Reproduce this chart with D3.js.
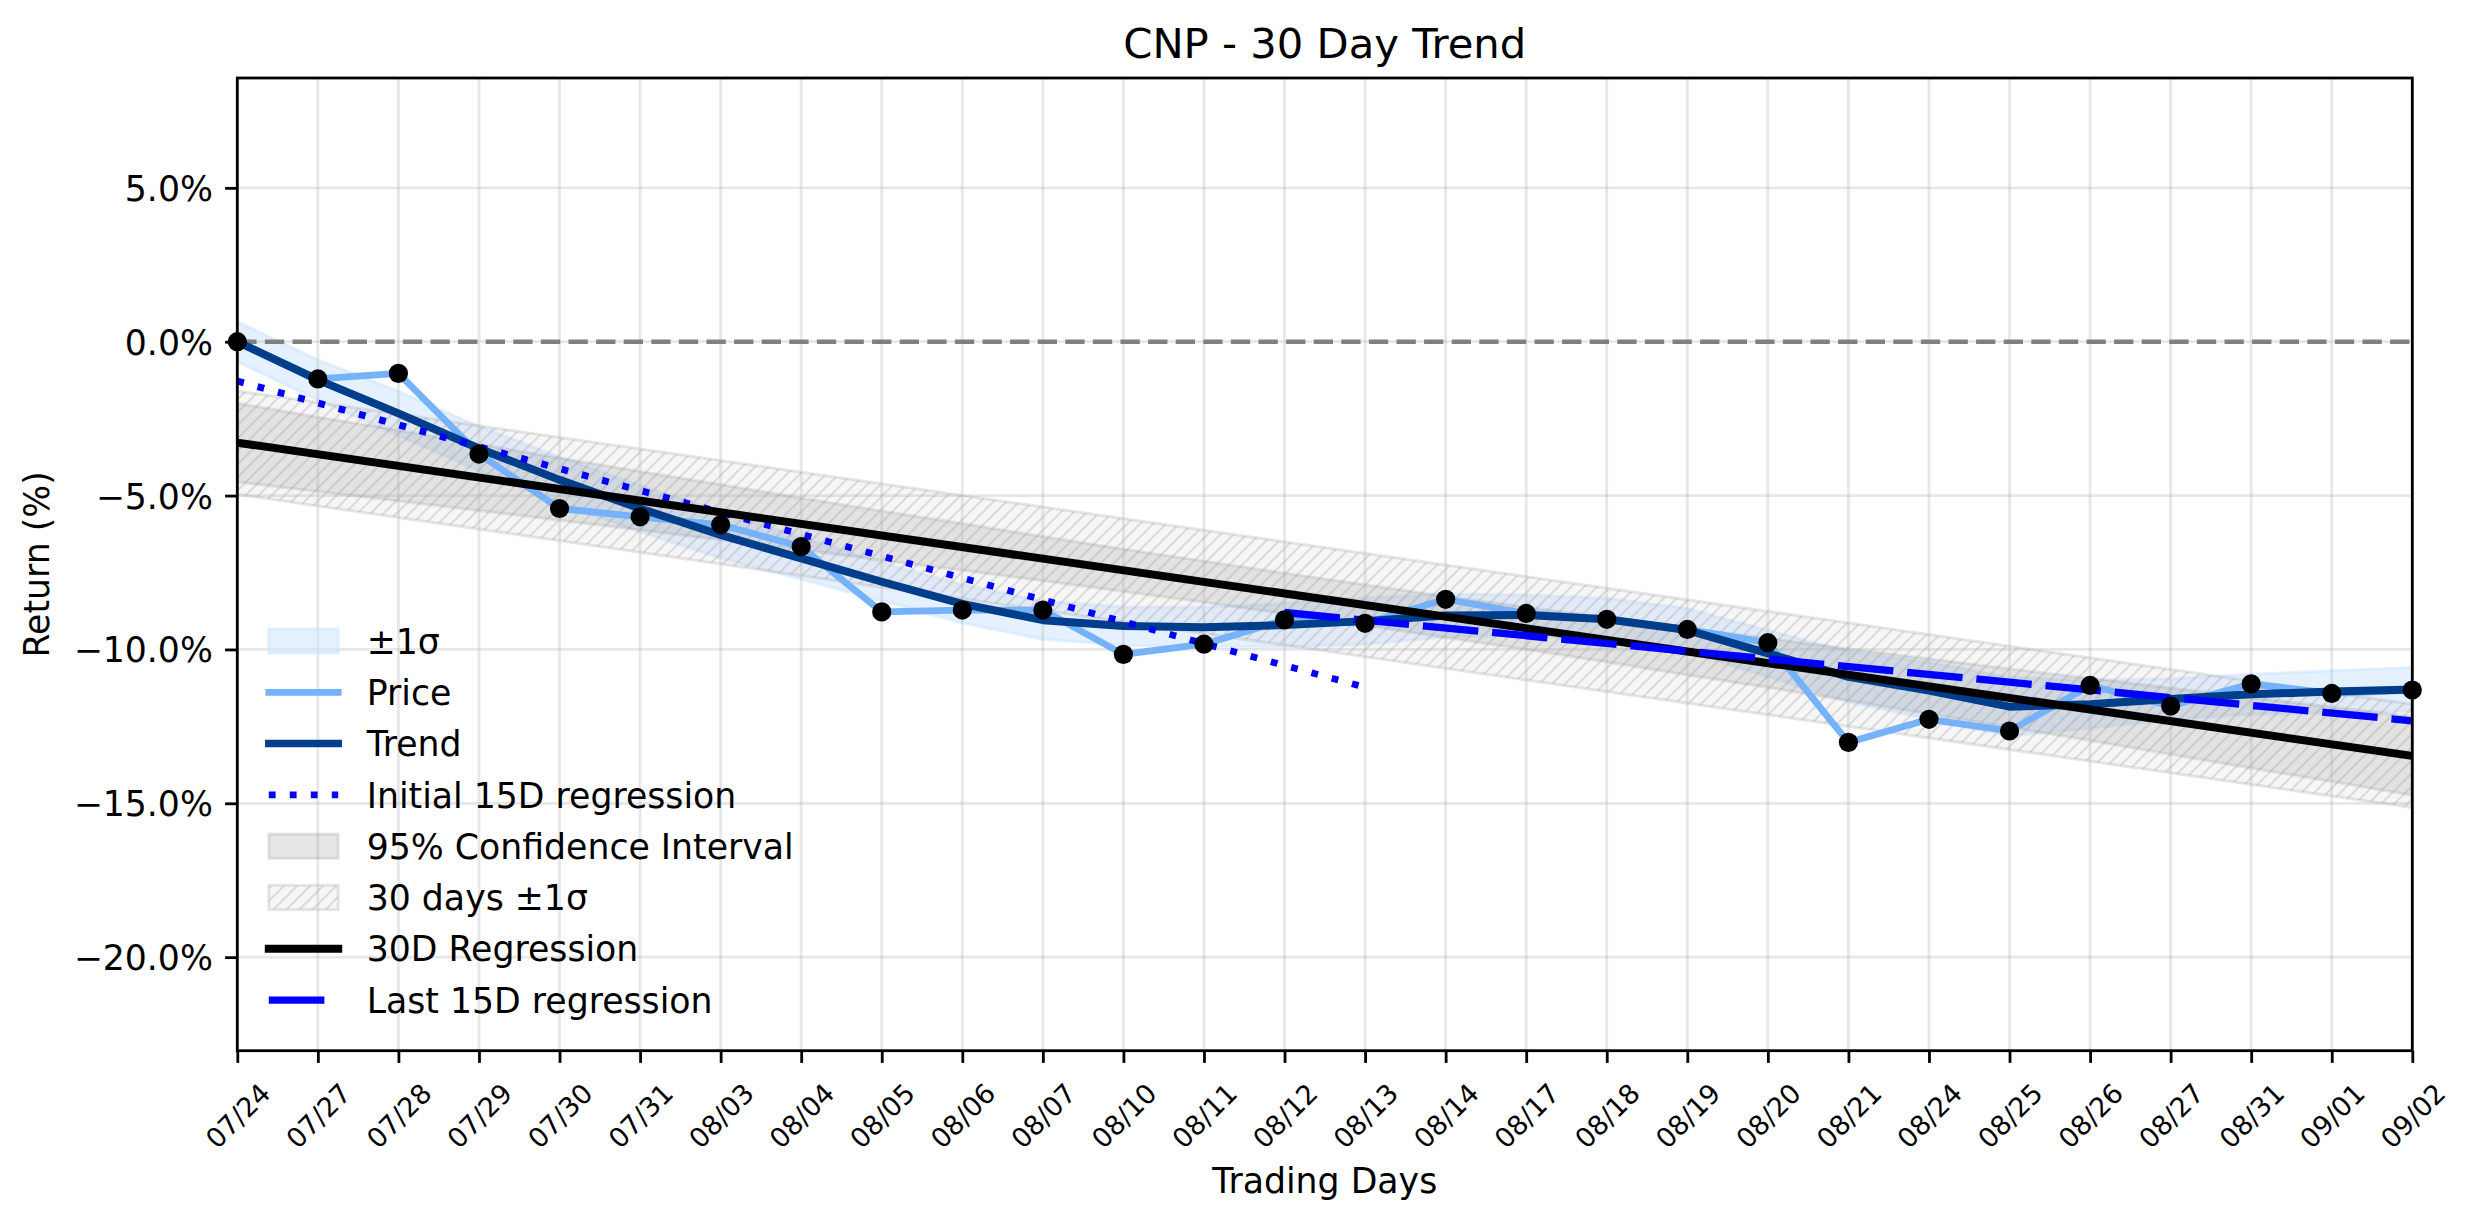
<!DOCTYPE html>
<html>
<head>
<meta charset="utf-8">
<script src="https://cdn.jsdelivr.net/npm/d3@7"></script>
<style>
html, body { margin: 0; padding: 0; background: #ffffff; }
svg { display: block; }
text { font-family: "DejaVu Sans", "Liberation Sans", sans-serif; fill: #000; }
</style>
</head>
<body>
<svg id="chart" width="2474" height="1224"></svg>
<script>
// ---------------- data ----------------
const dates = ["07/24","07/27","07/28","07/29","07/30","07/31","08/03","08/04","08/05","08/06",
               "08/07","08/10","08/11","08/12","08/13","08/14","08/17","08/18","08/19","08/20",
               "08/21","08/24","08/25","08/26","08/27","08/31","09/01","09/02"];

const price = [0.00,-1.21,-1.03,-3.65,-5.42,-5.69,-5.95,-6.66,-8.78,-8.72,
               -8.72,-10.16,-9.83,-9.04,-9.15,-8.37,-8.83,-9.02,-9.35,-9.78,
               -13.02,-12.27,-12.65,-11.17,-11.84,-11.12,-11.43,-11.32];

const trend = [0.00,-1.24,-2.33,-3.47,-4.49,-5.42,-6.28,-7.04,-7.80,-8.52,
               -9.05,-9.24,-9.28,-9.21,-9.08,-8.90,-8.88,-9.02,-9.37,-10.13,
               -10.89,-11.34,-11.86,-11.78,-11.61,-11.46,-11.37,-11.30];

const trendSigma = [0.65,0.65,0.72,0.72,0.75,0.75,0.75,0.68,0.62,0.62,
                    0.62,0.62,0.65,0.70,0.75,0.70,0.65,0.68,0.70,0.75,
                    0.82,0.92,0.95,0.78,0.66,0.65,0.68,0.71];

const ciUpper = [-2.00,-2.45,-2.88,-3.33,-3.78,-4.22,-4.64,-5.08,-5.50,-5.91,
                 -6.33,-6.74,-7.13,-7.52,-7.90,-8.27,-8.62,-8.97,-9.31,-9.64,
                 -9.98,-10.30,-10.63,-10.94,-11.25,-11.56,-11.87,-12.18];
const ciLower = [-4.56,-4.87,-5.18,-5.49,-5.80,-6.12,-6.44,-6.76,-7.10,-7.43,
                 -7.77,-8.12,-8.47,-8.84,-9.22,-9.61,-10.00,-10.41,-10.83,-11.24,
                 -11.66,-12.10,-12.53,-12.96,-13.41,-13.86,-14.29,-14.74];

const reg30X = [0, 27];
const reg30Y = [-3.28, -13.46];
const reg30Upper = [-1.60, -11.78];
const reg30Lower = [-4.96, -15.14];

const init15X = [0, 14];
const init15Y = [-1.28, -11.23];
const last15X = [13, 27];
const last15Y = [-8.80, -12.32];

const yTicks = [5, 0, -5, -10, -15, -20];
const yDomain = [-23.04, 8.57];

const titleText = "CNP - 30 Day Trend";
const xLabel = "Trading Days";
const yLabel = "Return (%)";

const legendItems = [
  { label: "\u00b11\u03c3", kind: "sigma" },
  { label: "Price", kind: "price" },
  { label: "Trend", kind: "trend" },
  { label: "Initial 15D regression", kind: "init" },
  { label: "95% Confidence Interval", kind: "ci" },
  { label: "30 days \u00b11\u03c3", kind: "hatch" },
  { label: "30D Regression", kind: "reg" },
  { label: "Last 15D regression", kind: "last" }
];

// ---------------- styles ----------------
const C = {
  price: "#75b2fa",
  trend: "#003e8c",
  sigmaFill: "#cce4ff",
  blue: "#0000ff",
  gridColor: "#b0b0b0"
};

// ---------------- layout ----------------
const L = 237.3, R = 2412.3, T = 78, B = 1050.7;
const svg = d3.select("#chart");

const x = d3.scaleLinear().domain([0, dates.length - 1]).range([L, R]);
const y = d3.scaleLinear().domain(yDomain).range([B, T]);

const defs = svg.append("defs");
defs.append("clipPath").attr("id", "plotclip")
  .append("rect").attr("x", L).attr("y", T).attr("width", R - L).attr("height", B - T);
const pat = defs.append("pattern").attr("id", "hatch")
  .attr("patternUnits", "userSpaceOnUse").attr("width", 13).attr("height", 13);
pat.append("path")
  .attr("d", "M-2,2 L2,-2 M0,13 L13,0 M11,15 L15,11")
  .attr("stroke", "#8a8a8a").attr("stroke-opacity", 0.24).attr("stroke-width", 2.2);

const plot = svg.append("g").attr("clip-path", "url(#plotclip)");

// --- fills (zorder 1) ---
const sigmaArea = d3.area()
  .x((d, i) => x(i))
  .y0((d, i) => y(trend[i] - trendSigma[i]))
  .y1((d, i) => y(trend[i] + trendSigma[i]));
plot.append("path").datum(trend).attr("d", sigmaArea)
  .attr("fill", C.sigmaFill).attr("fill-opacity", 0.5)
  .attr("stroke", C.sigmaFill).attr("stroke-opacity", 0.5).attr("stroke-width", 3);

const ciArea = d3.area()
  .x((d, i) => x(i))
  .y0((d, i) => y(ciLower[i]))
  .y1((d, i) => y(ciUpper[i]));
plot.append("path").datum(ciUpper).attr("d", ciArea)
  .attr("fill", "#808080").attr("fill-opacity", 0.2)
  .attr("stroke", "#808080").attr("stroke-opacity", 0.2).attr("stroke-width", 3);

const hatchArea = d3.area()
  .x((d, i) => x(reg30X[i]))
  .y0((d, i) => y(reg30Lower[i]))
  .y1((d, i) => y(reg30Upper[i]));
plot.append("path").datum(reg30X).attr("d", hatchArea)
  .attr("fill", "#d3d3d3").attr("fill-opacity", 0.2);
plot.append("path").datum(reg30X).attr("d", hatchArea)
  .attr("fill", "url(#hatch)")
  .attr("stroke", "#a0a0a0").attr("stroke-opacity", 0.25).attr("stroke-width", 3);

// --- grid ---
const grid = svg.append("g");
grid.selectAll("line.vg").data(d3.range(dates.length)).join("line")
  .attr("x1", d => x(d)).attr("x2", d => x(d)).attr("y1", T).attr("y2", B)
  .attr("stroke", C.gridColor).attr("stroke-opacity", 0.3).attr("stroke-width", 2.8);
grid.selectAll("line.hg").data(yTicks).join("line")
  .attr("x1", L).attr("x2", R).attr("y1", d => y(d)).attr("y2", d => y(d))
  .attr("stroke", C.gridColor).attr("stroke-opacity", 0.3).attr("stroke-width", 2.8);

// --- lines (zorder 2) ---
const lines = svg.append("g").attr("clip-path", "url(#plotclip)");
lines.append("line")
  .attr("x1", L).attr("x2", R).attr("y1", y(0)).attr("y2", y(0))
  .attr("stroke", "#808080").attr("stroke-width", 4.5).attr("stroke-dasharray", "19.3,8.3");

const lineIdx = d3.line().x((d, i) => x(i)).y(d => y(d));
lines.append("path").datum(price).attr("d", lineIdx)
  .attr("fill", "none").attr("stroke", C.price).attr("stroke-width", 6.8)
  .attr("stroke-linejoin", "round").attr("stroke-linecap", "square");
lines.append("path").datum(trend).attr("d", lineIdx)
  .attr("fill", "none").attr("stroke", C.trend).attr("stroke-width", 8)
  .attr("stroke-linejoin", "round").attr("stroke-linecap", "square");

const segLine = (xs, ys) => d3.line().x((d, i) => x(xs[i])).y((d, i) => y(ys[i]))(xs);
lines.append("path").attr("d", segLine(init15X, init15Y))
  .attr("fill", "none").attr("stroke", C.blue).attr("stroke-width", 6.8)
  .attr("stroke-dasharray", "6.8,14.2");
lines.append("path").attr("d", segLine(reg30X, reg30Y))
  .attr("fill", "none").attr("stroke", "#000").attr("stroke-width", 8)
  .attr("stroke-linecap", "square");
lines.append("path").attr("d", segLine(last15X, last15Y))
  .attr("fill", "none").attr("stroke", C.blue).attr("stroke-width", 7.3)
  .attr("stroke-dasharray", "55.6,13.9");

// --- markers ---
svg.append("g").selectAll("circle").data(price).join("circle")
  .attr("cx", (d, i) => x(i)).attr("cy", d => y(d)).attr("r", 9.6).attr("fill", "#000");

// --- axes ---
const fmt = v => (v < 0 ? "\u2212" : "") + Math.abs(v).toFixed(1) + "%";
const yAxis = svg.append("g").attr("transform", `translate(${L},0)`)
  .call(d3.axisLeft(y).tickValues(yTicks).tickFormat(fmt).tickSize(12.2).tickPadding(12.2));
yAxis.select(".domain").remove();
yAxis.selectAll(".tick line").attr("stroke", "#000").attr("stroke-width", 2.8);
yAxis.selectAll(".tick text").attr("font-size", 34.7).attr("dy", "0.36em")
  .attr("font-family", "DejaVu Sans").attr("fill", "#000");

const xAxis = svg.append("g").attr("transform", `translate(0,${B})`)
  .call(d3.axisBottom(x).tickValues(d3.range(dates.length)).tickFormat(i => dates[i]).tickSize(12.2));
xAxis.select(".domain").remove();
xAxis.selectAll(".tick line").attr("stroke", "#000").attr("stroke-width", 2.8);
xAxis.selectAll(".tick text")
  .attr("font-size", 27).attr("font-family", "DejaVu Sans").attr("fill", "#000")
  .attr("text-anchor", "middle").attr("y", 0).attr("dy", "0.36em")
  .attr("transform", "translate(0,65) rotate(-45)");

// spines
svg.append("rect").attr("x", L).attr("y", T).attr("width", R - L).attr("height", B - T)
  .attr("fill", "none").attr("stroke", "#000").attr("stroke-width", 2.8);

// --- labels ---
svg.append("text").attr("x", (L + R) / 2).attr("y", 58).attr("text-anchor", "middle")
  .attr("font-size", 41.7).text(titleText);
svg.append("text").attr("x", (L + R) / 2).attr("y", 1193).attr("text-anchor", "middle")
  .attr("font-size", 34.7).text(xLabel);
svg.append("text").attr("transform", `translate(49,${(T + B) / 2}) rotate(-90)`)
  .attr("text-anchor", "middle").attr("font-size", 34.7).text(yLabel);

// --- legend ---
const lg = svg.append("g");
const rowY0 = 641, rowStep = 51.3, hx0 = 268.8, hx1 = 338.2, tx = 366.7;
legendItems.forEach((it, k) => {
  const cy = rowY0 + k * rowStep;
  const g = lg.append("g");
  if (it.kind === "sigma") {
    g.append("rect").attr("x", hx0).attr("y", cy - 12.15).attr("width", hx1 - hx0).attr("height", 24.3)
      .attr("fill", C.sigmaFill).attr("fill-opacity", 0.5)
      .attr("stroke", C.sigmaFill).attr("stroke-opacity", 0.5).attr("stroke-width", 3);
  } else if (it.kind === "ci") {
    g.append("rect").attr("x", hx0).attr("y", cy - 12.15).attr("width", hx1 - hx0).attr("height", 24.3)
      .attr("fill", "#808080").attr("fill-opacity", 0.2)
      .attr("stroke", "#808080").attr("stroke-opacity", 0.2).attr("stroke-width", 3);
  } else if (it.kind === "hatch") {
    g.append("rect").attr("x", hx0).attr("y", cy - 12.15).attr("width", hx1 - hx0).attr("height", 24.3)
      .attr("fill", "#d3d3d3").attr("fill-opacity", 0.2);
    g.append("rect").attr("x", hx0).attr("y", cy - 12.15).attr("width", hx1 - hx0).attr("height", 24.3)
      .attr("fill", "url(#hatch)")
      .attr("stroke", "#a0a0a0").attr("stroke-opacity", 0.25).attr("stroke-width", 3);
  } else {
    const ln = g.append("line").attr("x1", hx0).attr("x2", hx1).attr("y1", cy).attr("y2", cy);
    if (it.kind === "price") ln.attr("stroke", C.price).attr("stroke-width", 6.8).attr("stroke-linecap", "square");
    if (it.kind === "trend") ln.attr("stroke", C.trend).attr("stroke-width", 7.5).attr("stroke-linecap", "square");
    if (it.kind === "reg") ln.attr("stroke", "#000").attr("stroke-width", 8).attr("stroke-linecap", "square");
    if (it.kind === "init") ln.attr("stroke", C.blue).attr("stroke-width", 6.8).attr("stroke-dasharray", "6.8,14.2");
    if (it.kind === "last") ln.attr("stroke", C.blue).attr("stroke-width", 7.3).attr("stroke-dasharray", "55.6,13.9");
  }
  g.append("text").attr("x", tx).attr("y", cy + 12.6).attr("font-size", 34.7).text(it.label);
});
</script>
</body>
</html>
